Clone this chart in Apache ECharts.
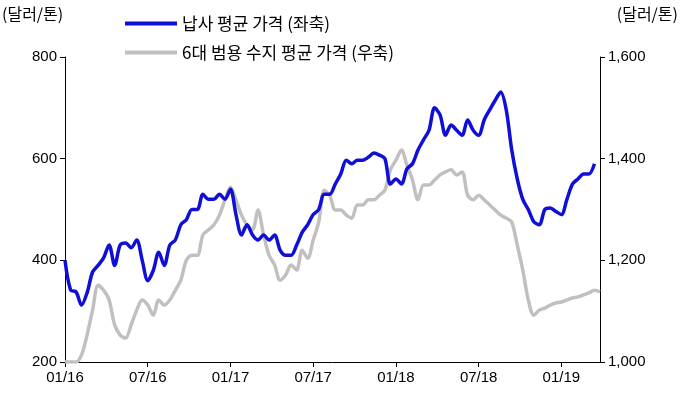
<!DOCTYPE html><html><head><meta charset="utf-8"><script src="https://cdn.jsdelivr.net/npm/echarts@6/dist/echarts.min.js"></script></head><body style="margin:0"><div id="c" style="width:680px;height:402px"></div><script>
const tickLabels=['01/16','07/16','01/17','07/17','01/18','07/18','01/19'];
const leadPrice=[400,342,338,312,336,377,390,405,430,390,430,434,425,440,400,360,380,416,390,430,440,470,480,500,500,530,520,520,530,520,540,490,450,470,450,440,450,440,450,420,410,410,430,455,470,490,500,530,530,550,570,597,590,597,597,603,611,607,600,550,560,550,580,590,617,637,656,700,686,646,666,656,646,676,656,646,676,696,715,731,696,617,560,520,500,476,470,500,503,496,490,520,550,560,570,570,590];
const resinPrice=[1000,1000,1000,1014,1053,1102,1151,1141,1122,1073,1053,1047,1073,1102,1122,1112,1092,1122,1112,1122,1141,1161,1200,1210,1210,1250,1260,1270,1289,1319,1344,1319,1289,1270,1260,1299,1250,1210,1191,1161,1171,1191,1181,1220,1204,1240,1275,1338,1328,1299,1299,1289,1283,1309,1309,1319,1319,1328,1338,1378,1397,1417,1387,1358,1319,1348,1348,1358,1368,1374,1378,1368,1374,1328,1319,1328,1319,1309,1299,1289,1283,1275,1230,1181,1122,1092,1102,1106,1112,1116,1118,1122,1126,1128,1132,1136,1141,1138];
const n=Math.max(leadPrice.length,resinPrice.length);
const step=Math.round((n-1)*83/535);
const cats=[];for(let i=0;i<n;i++)cats.push(String(i));
const f='"Liberation Sans", Arial, sans-serif';
const ax={color:'#000',fontSize:15,fontFamily:f};
const ch=echarts.init(document.getElementById('c'));
ch.setOption({animation:false,
graphic:[{type:'text',left:2,top:6,style:{text:'(달러/톤)',font:'16px "Noto Sans CJK KR"',fill:'#000'}},
{type:'text',right:2,top:6,style:{text:'(달러/톤)',font:'16px "Noto Sans CJK KR"',fill:'#000'}}],
legend:{orient:'vertical',left:120,top:10,itemGap:12,itemWidth:52,itemHeight:4,icon:'rect',textStyle:{fontSize:17,color:'#000',fontFamily:'"Noto Sans CJK KR"'},data:['납사 평균 가격 (좌축)','6대 범용 수지 평균 가격 (우축)']},
grid:{left:65,right:80,top:57,bottom:40},
xAxis:{type:'category',data:cats,boundaryGap:false,axisLine:{lineStyle:{color:'#000'}},axisTick:{interval:(i)=>i%step===0,lineStyle:{color:'#000'}},
axisLabel:{...ax,interval:(i)=>i%step===0,formatter:(v)=>{const i=+v;return i%step===0?(tickLabels[i/step]||''):''}}},
yAxis:[{type:'value',min:200,max:800,interval:200,splitLine:{show:false},axisLine:{show:true,lineStyle:{color:'#000'}},axisTick:{show:true,lineStyle:{color:'#000'}},axisLabel:ax},
{type:'value',min:1000,max:1600,interval:200,splitLine:{show:false},axisLine:{show:true,lineStyle:{color:'#000'}},axisTick:{show:true,lineStyle:{color:'#000'}},axisLabel:{...ax,formatter:(v)=>v.toLocaleString('en-US')}}],
series:[{name:'6대 범용 수지 평균 가격 (우축)',type:'line',yAxisIndex:1,data:resinPrice,symbol:'none',smooth:0.3,lineStyle:{color:'#c0c0c0',width:3.5},itemStyle:{color:'#c0c0c0'},z:1},
{name:'납사 평균 가격 (좌축)',type:'line',yAxisIndex:0,data:leadPrice,symbol:'none',smooth:0.3,lineStyle:{color:'#0f0fd8',width:3.5},itemStyle:{color:'#0f0fd8'},z:2}]});
</script></body></html>
